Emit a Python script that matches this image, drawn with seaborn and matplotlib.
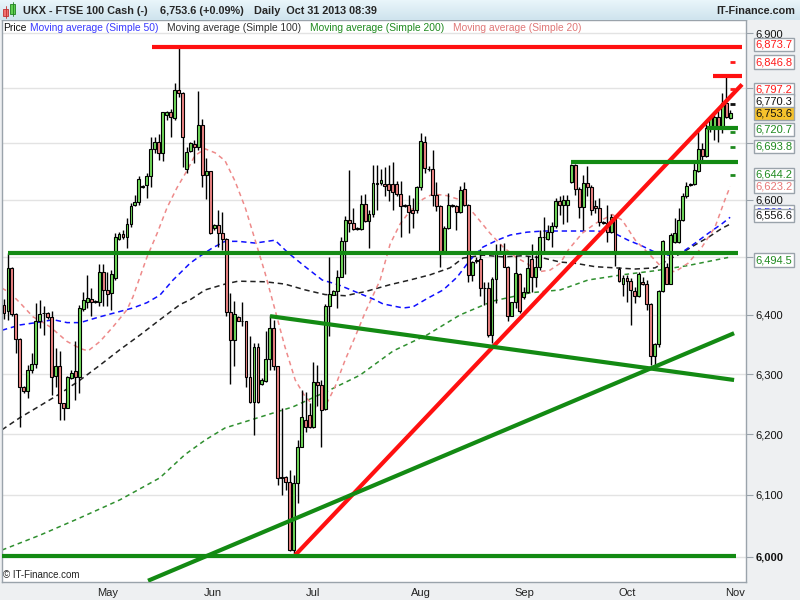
import matplotlib
matplotlib.use("Agg")
import matplotlib.pyplot as plt
import matplotlib.transforms as mtransforms
import numpy as np
import pandas as pd
import seaborn as sns

# daily candles (one per bar, left to right)
opens = [6417, 6406, 6480, 6402, 6359, 6278, 6271, 6307, 6317, 6389, 6403, 6403, 6397, 6297, 6314, 6251, 6244, 6294, 6305, 6295,
         6410, 6423, 6428, 6423, 6423, 6473, 6443, 6437, 6463, 6531, 6540, 6534, 6557, 6590, 6595, 6623, 6625, 6642, 6690, 6702,
         6682, 6751, 6756, 6745, 6796, 6790, 6654, 6687, 6699, 6693, 6732, 6643, 6650, 6550, 6555, 6541, 6531, 6405, 6357, 6397,
         6390, 6389, 6295, 6254, 6346, 6283, 6289, 6325, 6377, 6313, 6129, 6130, 6121, 6011, 6119, 6179, 6223, 6231, 6211, 6287,
         6281, 6242, 6416, 6435, 6441, 6466, 6528, 6564, 6559, 6549, 6549, 6592, 6562, 6574, 6630, 6629, 6627, 6627, 6627, 6628,
         6610, 6591, 6591, 6581, 6581, 6622, 6702, 6655, 6654, 6609, 6589, 6509, 6551, 6589, 6589, 6578, 6618, 6590, 6469, 6493,
         6496, 6447, 6446, 6366, 6461, 6509, 6509, 6483, 6399, 6422, 6471, 6430, 6439, 6497, 6465, 6483, 6534, 6531, 6544, 6553,
         6597, 6591, 6590, 6632, 6661, 6618, 6587, 6629, 6622, 6589, 6585, 6560, 6559, 6544, 6570, 6479, 6454, 6463, 6459, 6441,
         6432, 6456, 6454, 6419, 6331, 6351, 6441, 6482, 6454, 6525, 6525, 6564, 6607, 6626, 6627, 6650, 6689, 6678, 6727, 6727,
         6747, 6730, 6773, 6745]
highs = [6427, 6506, 6482, 6404, 6361, 6280, 6315, 6335, 6420, 6426, 6415, 6405, 6406, 6344, 6338, 6252, 6296, 6307, 6355, 6417,
         6440, 6469, 6446, 6426, 6488, 6488, 6474, 6477, 6542, 6544, 6546, 6567, 6594, 6609, 6641, 6626, 6647, 6711, 6712, 6717,
         6757, 6758, 6762, 6808, 6874, 6793, 6694, 6703, 6706, 6794, 6743, 6674, 6651, 6558, 6582, 6578, 6532, 6437, 6424, 6398,
         6422, 6390, 6364, 6353, 6353, 6293, 6373, 6400, 6392, 6314, 6243, 6131, 6140, 6132, 6190, 6274, 6270, 6251, 6320, 6315,
         6290, 6419, 6500, 6442, 6477, 6535, 6572, 6653, 6585, 6552, 6608, 6610, 6582, 6661, 6661, 6655, 6657, 6661, 6666, 6633,
         6633, 6592, 6608, 6603, 6624, 6718, 6713, 6659, 6688, 6632, 6590, 6553, 6612, 6593, 6590, 6624, 6632, 6593, 6492, 6500,
         6513, 6457, 6456, 6466, 6523, 6522, 6524, 6484, 6423, 6503, 6472, 6448, 6501, 6523, 6503, 6547, 6570, 6556, 6561, 6603,
         6606, 6609, 6609, 6663, 6663, 6623, 6644, 6659, 6626, 6600, 6603, 6562, 6591, 6575, 6571, 6483, 6469, 6469, 6463, 6448,
         6474, 6466, 6460, 6420, 6353, 6443, 6529, 6490, 6541, 6567, 6585, 6612, 6632, 6630, 6670, 6727, 6701, 6735, 6748, 6751,
         6760, 6790, 6821, 6760]
lows = [6393, 6392, 6398, 6335, 6212, 6268, 6260, 6301, 6310, 6378, 6366, 6394, 6265, 6279, 6223, 6223, 6243, 6292, 6256, 6268,
        6406, 6412, 6398, 6420, 6415, 6415, 6415, 6409, 6460, 6529, 6531, 6515, 6552, 6588, 6591, 6620, 6603, 6622, 6682, 6670,
        6669, 6742, 6711, 6742, 6784, 6657, 6647, 6685, 6664, 6688, 6622, 6601, 6539, 6546, 6518, 6512, 6398, 6284, 6313, 6389,
        6381, 6279, 6251, 6199, 6251, 6282, 6287, 6307, 6306, 6116, 6100, 6108, 6009, 6000, 6087, 6178, 6204, 6210, 6210, 6246,
        6179, 6240, 6364, 6434, 6412, 6465, 6471, 6544, 6547, 6547, 6547, 6560, 6515, 6570, 6582, 6626, 6607, 6597, 6582, 6606,
        6535, 6587, 6542, 6550, 6577, 6617, 6647, 6650, 6588, 6580, 6483, 6508, 6549, 6587, 6546, 6576, 6589, 6456, 6458, 6490,
        6432, 6417, 6362, 6352, 6420, 6506, 6482, 6389, 6398, 6412, 6403, 6427, 6437, 6440, 6448, 6477, 6509, 6529, 6518, 6550,
        6573, 6558, 6561, 6629, 6609, 6567, 6547, 6606, 6573, 6576, 6553, 6557, 6525, 6541, 6485, 6457, 6432, 6423, 6383, 6420,
        6431, 6451, 6409, 6315, 6314, 6346, 6440, 6453, 6453, 6524, 6524, 6562, 6603, 6624, 6626, 6648, 6666, 6676, 6721, 6706,
        6703, 6718, 6745, 6744]
closes = [6404, 6480, 6402, 6359, 6279, 6271, 6307, 6317, 6389, 6402, 6404, 6396, 6295, 6314, 6251, 6244, 6295, 6302, 6295, 6412,
          6426, 6429, 6423, 6424, 6473, 6443, 6436, 6471, 6534, 6540, 6534, 6557, 6589, 6596, 6636, 6624, 6642, 6689, 6702, 6682,
          6756, 6756, 6747, 6796, 6790, 6712, 6685, 6700, 6693, 6732, 6643, 6650, 6542, 6555, 6541, 6531, 6405, 6357, 6402, 6390,
          6389, 6295, 6254, 6346, 6254, 6290, 6325, 6377, 6313, 6128, 6128, 6121, 6011, 6119, 6179, 6228, 6211, 6211, 6287, 6281,
          6240, 6416, 6436, 6441, 6466, 6528, 6564, 6559, 6548, 6550, 6592, 6562, 6574, 6629, 6628, 6634, 6624, 6617, 6614, 6610,
          6588, 6588, 6578, 6577, 6622, 6704, 6656, 6654, 6609, 6588, 6509, 6551, 6590, 6590, 6578, 6617, 6590, 6469, 6491, 6494,
          6447, 6446, 6366, 6461, 6509, 6508, 6483, 6399, 6422, 6472, 6407, 6439, 6481, 6466, 6483, 6535, 6535, 6544, 6553, 6597,
          6591, 6599, 6600, 6661, 6618, 6587, 6629, 6622, 6581, 6585, 6560, 6559, 6544, 6570, 6507, 6458, 6463, 6459, 6443, 6432,
          6471, 6453, 6419, 6331, 6351, 6441, 6527, 6454, 6538, 6541, 6564, 6607, 6624, 6627, 6653, 6689, 6678, 6727, 6747, 6748,
          6730, 6773, 6748, 6754]

month_labels = ["May", "Jun", "Jul", "Aug", "Sep", "Oct", "Nov"]
month_pos = [26.0, 52.7, 77.9, 105.1, 131.1, 157.0, 184.3]

# moving averages (bar position, value)
ma20_x = [-0.5, 1.5, 4.0, 7.3, 11.6, 15.9, 19.2, 21.2, 24.2, 27.5, 31.0, 32.5, 36.0, 38.6, 41.1, 43.6, 46.1, 48.1, 50.7, 53.2,
          55.7, 58.2, 60.8, 63.3, 65.8, 68.3, 70.8, 73.4, 75.9, 78.4, 80.9, 83.4, 86.0, 88.5, 91.0, 94.8, 97.3, 99.8, 102.3,
          105.6, 108.1, 111.7, 115.7, 119.2, 122.5, 125.8, 129.3, 131.8, 134.4, 137.6, 140.2, 142.2, 145.7, 149.0, 153.3,
          155.8, 159.1, 162.3, 165.9, 169.1, 172.4, 175.9, 179.2, 181.7, 183.0]
ma20_y = [6446, 6438, 6421, 6397, 6380, 6355, 6343, 6339, 6355, 6380, 6409, 6431, 6499, 6541, 6586, 6621, 6651, 6678, 6690, 6683,
          6669, 6633, 6586, 6529, 6472, 6409, 6346, 6290, 6262, 6245, 6245, 6278, 6324, 6363, 6404, 6460, 6522, 6557, 6580,
          6601, 6610, 6607, 6598, 6569, 6541, 6517, 6498, 6489, 6474, 6477, 6489, 6512, 6541, 6558, 6574,
          6564, 6529, 6507, 6481, 6474, 6489, 6517, 6552, 6600, 6623]
ma50_x = [-0.5, 4.0, 9.1, 12.4, 15.9, 19.2, 24.2, 29.2, 32.5, 36.0, 39.3, 42.6, 46.9, 48.9, 52.4, 55.7, 59.0, 63.3, 68.3, 71.6,
          75.9, 80.2, 84.2, 89.2, 93.5, 95.5, 100.6, 103.1, 106.6, 110.7, 114.2, 117.5, 120.7, 124.3, 127.6, 131.8, 135.9,
          140.2, 143.9, 149.0, 153.3, 157.3, 160.8, 164.1, 167.4, 170.9, 174.2, 177.5, 181.0, 183.0]
ma50_y = [6374, 6383, 6388, 6392, 6387, 6387, 6397, 6406, 6412, 6421, 6434, 6460, 6489, 6499, 6515, 6527, 6527, 6524, 6529, 6507,
          6483, 6460, 6452, 6438, 6426, 6419, 6412, 6414, 6428, 6443, 6465, 6495, 6517, 6529, 6538, 6543, 6545,
          6545, 6545, 6545, 6543, 6529, 6519, 6508, 6503, 6508, 6524, 6541, 6558, 6569]
ma100_x = [-0.5, 4.0, 9.1, 14.1, 19.2, 24.2, 29.2, 34.3, 39.3, 44.4, 46.9, 50.7, 55.7, 59.0, 65.8, 70.8, 75.9, 80.9, 86.0, 91.0,
           97.3, 102.3, 107.4, 112.4, 115.7, 120.7, 125.8, 130.8, 135.9, 140.2, 143.9, 149.0, 154.0, 159.1, 164.1, 167.4,
           170.9, 174.2, 177.5, 181.0, 183.0]
ma100_y = [6207, 6227, 6247, 6267, 6290, 6315, 6341, 6366, 6392, 6418, 6426, 6443, 6453, 6458, 6457, 6453, 6443, 6435, 6433, 6440,
           6452, 6460, 6469, 6481, 6498, 6503, 6500, 6502, 6498, 6491, 6489, 6483, 6481, 6479, 6481, 6495,
           6507, 6521, 6534, 6550, 6557]
ma200_x = [-0.5, 9.1, 19.2, 29.2, 39.3, 45.6, 50.7, 55.7, 64.5, 72.8, 81.4, 89.7, 98.1, 106.6, 114.9, 123.3, 132.6, 140.2,
           147.2, 155.8, 164.1, 172.4, 182.5]
ma200_y = [6011, 6035, 6063, 6092, 6128, 6166, 6190, 6210, 6228, 6245, 6271, 6298, 6339, 6366, 6400, 6424, 6438, 6443,
           6460, 6469, 6476, 6485, 6499]

# drawn trend lines: start bar, start price, end bar, end price
red_lines = [(37.3, 6873.7, 186.0, 6873.7), (73.4, 6003, 186.0, 6806), (178.7, 6821, 186.0, 6821)]
green_lines = [(1.0, 6506, 185.0, 6506), (-0.5, 6002, 184.5, 6002), (142.9, 6667, 185.0, 6667),
               (177.2, 6727, 185.0, 6727), (67.05, 6398, 184.0, 6290), (36.3, 5962, 184.0, 6369)]

# value boxes on the price scale
box_values = [6873.7, 6846.8, 6797.2, 6770.3, 6753.6, 6720.7, 6693.8, 6644.2, 6623.2, 6569.4, 6556.6, 6494.5]
box_colors = ["#ff1a1a", "#ff1a1a", "#ff1a1a", "#111111", "#111111", "#1f8a1f", "#1f8a1f", "#1f8a1f",
              "#e87878", "#2020ff", "#111111", "#1f8a1f"]
box_nudge = [3, 0, 0, 3, 0, 2, 0, 0, 0, 5, 9, 0]

price_ticks = [6000, 6100, 6200, 6300, 6400, 6500, 6600, 6700, 6800, 6900]
hidden_ticks = [6500, 6700, 6800]   # covered by value boxes in the original

GREEN = "#138a13"
RED = "#ff1010"

sns.set_style("white")
plt.rcParams["font.family"] = ["Liberation Sans", "DejaVu Sans"]

fig = plt.figure(figsize=(8, 6), dpi=100, facecolor="#eef0f2")
ax = fig.add_axes([2 / 800, 18 / 600, 744 / 800, 562 / 600])
ax.set_facecolor("white")
ax.set_yscale("log")
ax.set_ylim(5960, 6924)
ax.set_xlim(-0.5, 187.0)

# candles
df = pd.DataFrame({"o": opens, "h": highs, "l": lows, "c": closes})
df["x"] = np.arange(len(df))
up = df["c"] >= df["o"]
ax.vlines(df["x"], df["l"], df["h"], color="black", lw=1.0, zorder=3)
body_lo = df[["o", "c"]].min(axis=1)
body_h = (df["c"] - df["o"]).abs().clip(lower=0.6)
ax.bar(df["x"], body_h, bottom=body_lo, width=0.72,
       color=np.where(up, "#72dc5c", "#f08585"), edgecolor="black", linewidth=0.8, zorder=4)

# moving averages
for xs, ys, col, dash in [(ma200_x, ma200_y, "#2f8f2f", (3, 2.5)), (ma100_x, ma100_y, "#222222", (3.5, 2.5)),
                          (ma50_x, ma50_y, "#1010ff", (3.5, 2.5)), (ma20_x, ma20_y, "#ee8a8a", (3, 2.5))]:
    sns.lineplot(x=xs, y=ys, ax=ax, color=col, lw=1.1, dashes=False, zorder=2)
    ax.lines[-1].set_dashes(dash)

# trend lines
for x0, p0, x1, p1 in red_lines:
    ax.plot([x0, x1], [p0, p1], color=RED, lw=3.0, solid_capstyle="butt", zorder=5)
for x0, p0, x1, p1 in green_lines:
    ax.plot([x0, x1], [p0, p1], color=GREEN, lw=3.0, solid_capstyle="butt", zorder=5)

# little end markers
for v, col in zip(box_values[1:8], box_colors[1:8]):
    if v == 6753.6:
        continue
    ax.hlines(v, 183.0, 184.2, color=col, lw=2.0, zorder=5)

ax.set_yticks(price_ticks)
ax.set_yticklabels(["" if t in hidden_ticks else f"{t:,}" for t in price_ticks])
ax.yaxis.set_minor_locator(matplotlib.ticker.NullLocator())
ax.yaxis.tick_right()
ax.tick_params(axis="y", which="major", direction="out", length=5, color="#9aa3ab",
               labelsize=8, pad=2, labelcolor="#111111")
ax.get_yticklabels()[0].set_fontweight("bold")
ax.set_xticks(month_pos)
ax.set_xticklabels(month_labels)
ax.tick_params(axis="x", direction="out", length=3, color="#9aa3ab", labelsize=8, pad=1, labelcolor="#222222")
ax.grid(axis="y", color="#e3e3e3", lw=1.0)
ax.set_axisbelow(True)
for s in ax.spines.values():
    s.set_color("#9aa3ab")
    s.set_linewidth(1.0)

# value boxes
blend = mtransforms.blended_transform_factory(ax.transAxes, ax.transData)
for v, col, nud in zip(box_values, box_colors, box_nudge):
    tr = mtransforms.offset_copy(blend, fig=fig, x=0, y=nud, units="dots")
    bg = "#f6c22c" if v == 6753.6 else "white"
    ax.text(1.0125, v, f"{v:,.1f}", transform=tr, ha="left", va="center", fontsize=8, color=col,
            clip_on=False, zorder=20,
            bbox=dict(boxstyle="square,pad=0.15", fc=bg, ec="#9aa3ab", lw=1.0))

# header bar
hax = fig.add_axes([0, 1 - 20 / 600, 1, 20 / 600])
grad = np.linspace(0, 1, 20).reshape(-1, 1)
hax.imshow(grad, aspect="auto", cmap=matplotlib.colors.LinearSegmentedColormap.from_list("h", ["#e9f5fa", "#cfe4ee"]),
           extent=[0, 800, 20, 0])
hax.add_patch(plt.Rectangle((3, 9), 5, 7, fc="#f07070", ec="#c03030", lw=0.6))
hax.plot([5.5, 5.5], [6, 18], color="#c03030", lw=0.6)
hax.add_patch(plt.Rectangle((10, 4), 5, 10, fc="#60d050", ec="#208020", lw=0.6))
hax.plot([12.5, 12.5], [2, 16], color="#208020", lw=0.6)
hax.set_xlim(0, 800)
hax.set_ylim(20, 0)
hax.axis("off")

fig.text(23 / 800, 1 - 11 / 600, "UKX - FTSE 100 Cash (-)", fontsize=7.8, fontweight="bold", va="center")
fig.text(160 / 800, 1 - 11 / 600, "6,753.6 (+0.09%)", fontsize=7.8, fontweight="bold", va="center")
fig.text(254 / 800, 1 - 11 / 600, "Daily  Oct 31 2013 08:39", fontsize=7.8, fontweight="bold", va="center")
fig.text(795 / 800, 1 - 11 / 600, "IT-Finance.com", fontsize=7.8, fontweight="bold", va="center", ha="right")

# legend row
for txt, xpos, col in [("Price", 3, "#111111"), ("Moving average (Simple 50)", 30, "#3a3aff"),
                       ("Moving average (Simple 100)", 167, "#333333"), ("Moving average (Simple 200)", 310, "#1f8a1f"),
                       ("Moving average (Simple 20)", 453, "#e07878")]:
    fig.text(xpos / 800, 1 - 28 / 600, txt, fontsize=7.4, color=col, va="center")

fig.text(3 / 800, 1 - 575 / 600, "\u00a9 IT-Finance.com", fontsize=7, color="#222222", va="center")

fig.savefig("out.png", dpi=100, facecolor=fig.get_facecolor())
